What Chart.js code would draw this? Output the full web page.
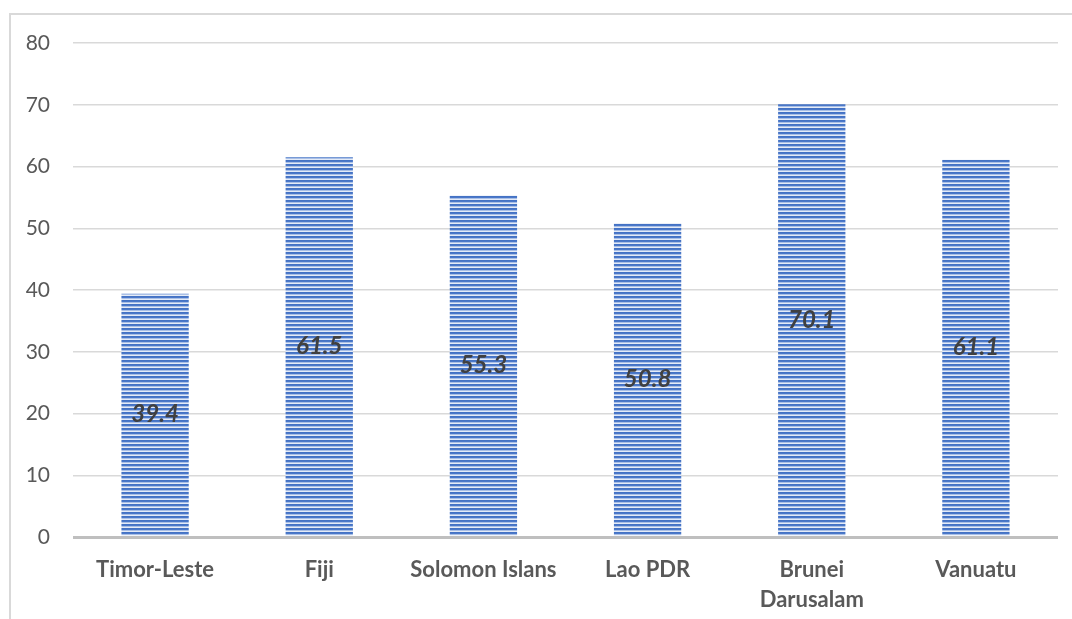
<!DOCTYPE html>
<html>
<head>
<meta charset="utf-8">
<script src="https://cdn.jsdelivr.net/npm/chart.js@4/dist/chart.umd.min.js"></script>
<style>
  html, body { margin: 0; padding: 0; background: #fff; overflow: hidden; }
  #frame {
    position: absolute; left: 9px; top: 13px; width: 1200px; height: 800px;
    border-left: 2px solid #d9d9d9; border-top: 2px solid #d9d9d9;
  }
  #wrap { position: absolute; left: 0; top: 0; width: 1072px; height: 619px; }
</style>
</head>
<body>
<div id="frame"></div>
<div id="wrap"><canvas id="chart" width="1072" height="619"></canvas></div>
<script>
// chart data
const countries = ['Timor-Leste', 'Fiji', 'Solomon Islans', 'Lao PDR', ['Brunei', 'Darusalam'], 'Vanuatu'];
const scores = [39.4, 61.5, 55.3, 50.8, 70.1, 61.1];
const yTicks = [0, 10, 20, 30, 40, 50, 60, 70, 80];

// horizontal stripe fill like the office "narrow horizontal" pattern
function makeStripes() {
  const c = document.createElement('canvas');
  c.width = 4;
  c.height = 4;
  const g = c.getContext('2d');
  const rows = ['#4472c4', '#4a78c9', '#a9bfe6', '#e4ebf7'];
  rows.forEach((col, i) => {
    g.fillStyle = col;
    g.fillRect(0, i, 4, 1);
  });
  return g.createPattern(c, 'repeat');
}

// value labels centred inside each bar
const centreLabels = {
  id: 'centreLabels',
  afterDatasetsDraw(chart) {
    const ctx = chart.ctx;
    const meta = chart.getDatasetMeta(0);
    ctx.save();
    ctx.font = 'italic bold 24px Lato';
    ctx.fillStyle = '#404040';
    ctx.textAlign = 'center';
    ctx.textBaseline = 'middle';
    meta.data.forEach((bar, i) => {
      const mid = (bar.y + bar.base) / 2;
      ctx.fillText(scores[i].toFixed(1), bar.x, mid);
    });
    ctx.restore();
  }
};

const ctx = document.getElementById('chart');
new Chart(ctx, {
  type: 'bar',
  data: {
    labels: countries,
    datasets: [{
      data: scores,
      backgroundColor: makeStripes(),
      borderWidth: 0,
      categoryPercentage: 1,
      barPercentage: 0.41
    }]
  },
  options: {
    responsive: false,
    animation: false,
    layout: { padding: { left: 0, right: 14, top: 43, bottom: 0 } },
    plugins: {
      legend: { display: false },
      tooltip: { enabled: false }
    },
    scales: {
      x: {
        grid: { display: false, drawTicks: false },
        border: { display: false },
        ticks: {
          color: '#595959',
          font: { family: 'Lato', size: 22, weight: 'bold', lineHeight: 1.35 },
          padding: 18,
          maxRotation: 0,
          autoSkip: false
        },
        afterFit(scale) { scale.height = 82; }
      },
      y: {
        min: 0,
        max: 80,
        afterBuildTicks(scale) { scale.ticks = yTicks.map(v => ({ value: v })); },
        grid: {
          drawTicks: false,
          color: (c) => c.index === 0 ? '#bfbfbf' : '#d9d9d9',
          lineWidth: (c) => c.index === 0 ? 3 : 1.5
        },
        border: { display: false },
        ticks: {
          color: '#595959',
          font: { family: 'Lato', size: 21 },
          padding: 23
        },
        afterFit(scale) { scale.width = 73; }
      }
    }
  },
  plugins: [centreLabels]
});
</script>
</body>
</html>
